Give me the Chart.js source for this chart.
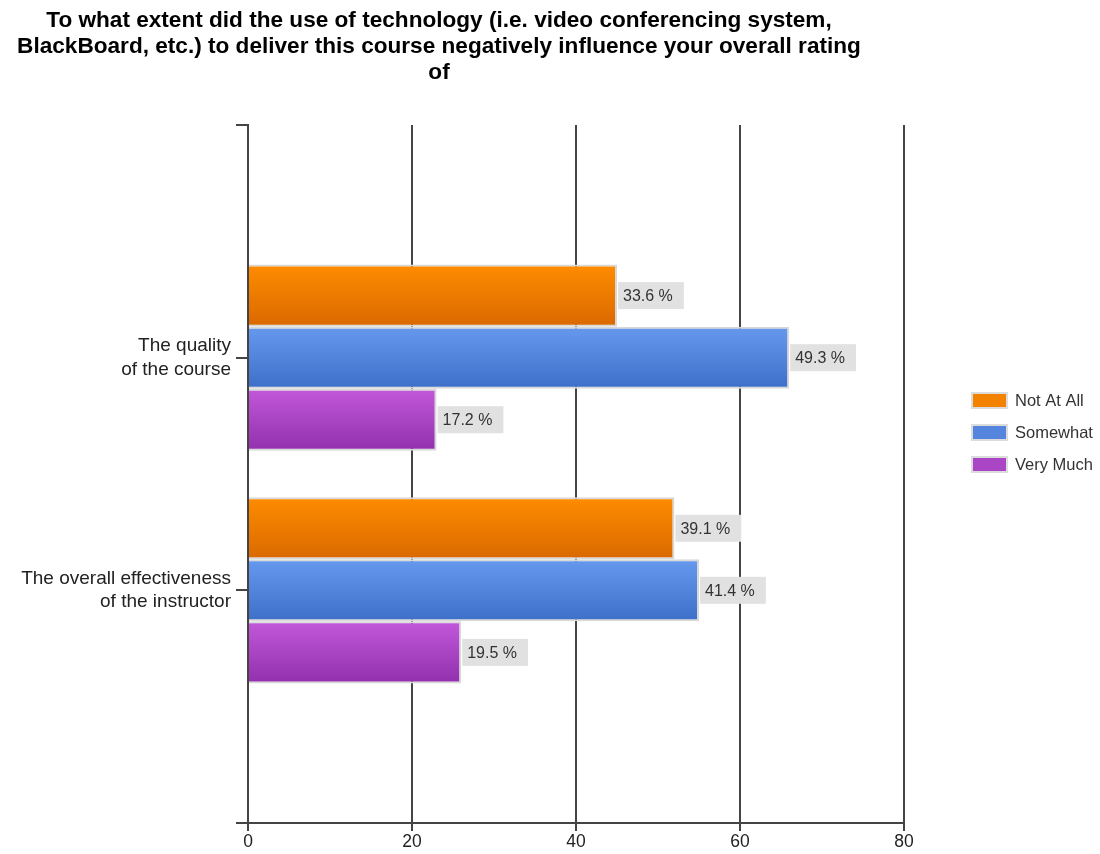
<!DOCTYPE html>
<html>
<head>
<meta charset="utf-8">
<title>Technology influence on ratings</title>
<script src="https://cdn.jsdelivr.net/npm/chart.js@4"></script>
<style>
  html, body { margin: 0; padding: 0; background: #fff; }
  #wrap { position: relative; width: 1100px; height: 854px; }
</style>
</head>
<body>
<div id="wrap"><canvas id="ratingChart"></canvas></div>
<script>
// chart data (bar lengths are response counts, labels show the percentage)
const titleLines = [
    'To what extent did the use of technology (i.e. video conferencing system,',
    'BlackBoard, etc.) to deliver this course negatively influence your overall rating',
    'of'
];
const categories = ['', ['The quality', 'of the course'], ['The overall effectiveness', 'of the instructor'], ''];
const seriesNames = ['Not At All', 'Somewhat', 'Very Much'];
const notAtAll = [null, 45, 52, null];
const somewhat = [null, 66, 55, null];
const veryMuch = [null, 23, 26, null];
const notAtAllPct = [null, 33.6, 39.1, null];
const somewhatPct = [null, 49.3, 41.4, null];
const veryMuchPct = [null, 17.2, 19.5, null];
const xTicks = [0, 20, 40, 60, 80];

const FONT = "'Liberation Sans', Arial, sans-serif";

// top and bottom colour of each bar gradient
const barColors = [
    ['#ff8c00', '#d96900'],
    ['#6699ee', '#3d6fc8'],
    ['#c258da', '#9130ad']
];
const legendColors = ['#f28200', '#5585dc', '#aa45c6'];

// vertical gradient for one bar, worked out from the category scale
function barGradient(ctx) {
    const colors = barColors[ctx.datasetIndex];
    const chart = ctx.chart;
    const yScale = chart.scales.y;
    if (!yScale || ctx.type !== 'data') return colors[0];
    const step = yScale.getPixelForValue(1) - yScale.getPixelForValue(0);
    const group = step * 0.8;
    const h = group / 3;
    const top = yScale.getPixelForValue(ctx.dataIndex) - group / 2 + ctx.datasetIndex * h;
    if (!Number.isFinite(top) || !Number.isFinite(h) || h <= 0) return colors[0];
    const g = chart.ctx.createLinearGradient(0, top, 0, top + h);
    g.addColorStop(0, colors[0]);
    g.addColorStop(1, colors[1]);
    return g;
}

// title, centred over the left part of the picture
const titlePlugin = {
    id: 'titleText',
    afterDraw(chart) {
        const c = chart.ctx;
        c.save();
        c.font = 'bold 22.6px ' + FONT;
        c.fillStyle = '#000';
        c.textAlign = 'center';
        c.textBaseline = 'middle';
        titleLines.forEach((line, i) => c.fillText(line, 439, 21 + i * 26));
        c.restore();
    }
};

// grey boxes with the percentage at the end of each bar
const valueLabels = {
    id: 'valueLabels',
    afterDatasetsDraw(chart) {
        const c = chart.ctx;
        const pcts = [notAtAllPct, somewhatPct, veryMuchPct];
        c.save();
        c.font = '16px ' + FONT;
        c.textBaseline = 'middle';
        chart.data.datasets.forEach((ds, di) => {
            const meta = chart.getDatasetMeta(di);
            meta.data.forEach((bar, i) => {
                const v = pcts[di][i];
                if (v === null) return;
                const txt = v.toFixed(1) + ' %';
                const w = c.measureText(txt).width;
                c.fillStyle = '#e1e1e1';
                c.fillRect(bar.x + 1, bar.y - 13.5, w + 16, 27);
                c.fillStyle = '#333';
                c.fillText(txt, bar.x + 6, bar.y + 1);
            });
        });
        c.restore();
    }
};

// legend on the right
const sideLegend = {
    id: 'sideLegend',
    afterDraw(chart) {
        const c = chart.ctx;
        c.save();
        c.font = '16.5px ' + FONT;
        c.textBaseline = 'middle';
        seriesNames.forEach((name, i) => {
            const y = 400 + i * 32;
            c.fillStyle = '#dcdcdc';
            c.fillRect(971, y - 8, 37, 17);
            c.fillStyle = legendColors[i];
            c.fillRect(973, y - 6, 33, 13);
            c.fillStyle = '#333';
            c.fillText(name, 1015, y + 1);
        });
        c.restore();
    }
};

function createChart() {
    const ctx = document.getElementById('ratingChart').getContext('2d');
    const series = [notAtAll, somewhat, veryMuch];
    new Chart(ctx, {
        type: 'bar',
        data: {
            labels: categories,
            datasets: series.map((data, i) => ({
                label: seriesNames[i],
                data: data,
                backgroundColor: barGradient,
                borderColor: '#d8d8d8',
                borderWidth: 2,
                borderSkipped: 'start',
                categoryPercentage: 0.8,
                barPercentage: 1
            }))
        },
        options: {
            indexAxis: 'y',
            responsive: true,
            maintainAspectRatio: false,
            animation: false,
            layout: { padding: { top: 125, right: 196, left: 0, bottom: 0 } },
            plugins: {
                legend: { display: false },
                title: { display: false },
                tooltip: { enabled: false }
            },
            scales: {
                x: {
                    min: xTicks[0],
                    max: xTicks[xTicks.length - 1],
                    afterBuildTicks(scale) {
                        scale.ticks = xTicks.map(v => ({ value: v }));
                    },
                    afterFit(scale) { scale.height = 31; },
                    grid: { color: '#444', lineWidth: 2, tickLength: 8, drawTicks: true },
                    border: { display: true, color: '#444', width: 2 },
                    ticks: { color: '#222', font: { family: FONT, size: 17.5 }, padding: 1 }
                },
                y: {
                    type: 'category',
                    offset: false,
                    z: 1,
                    afterFit(scale) { scale.width = 248; },
                    grid: { offset: false, drawOnChartArea: false, drawTicks: true, tickLength: 12, color: '#444', lineWidth: 2 },
                    border: { display: true, color: '#444', width: 2 },
                    ticks: {
                        color: '#222',
                        font: { family: FONT, size: 19, lineHeight: 1.25 },
                        padding: 5,
                        autoSkip: false
                    }
                }
            }
        },
        plugins: [titlePlugin, valueLabels, sideLegend]
    });
}

window.addEventListener('load', createChart);
</script>
</body>
</html>
